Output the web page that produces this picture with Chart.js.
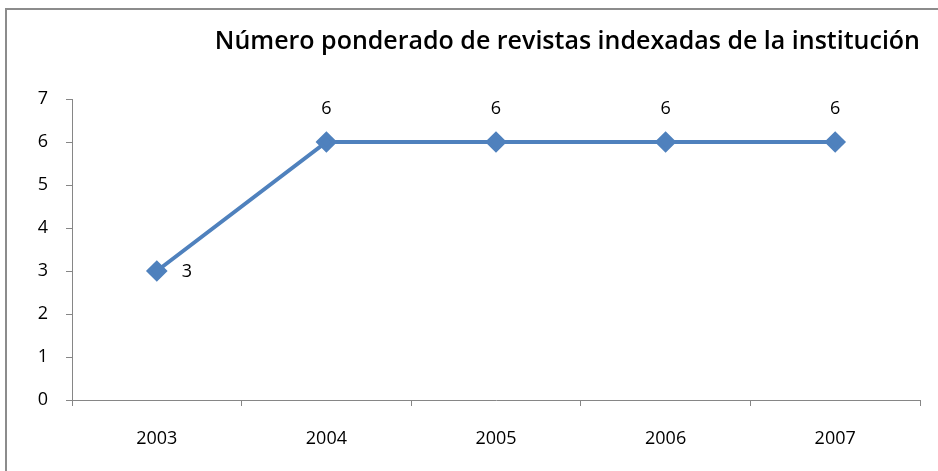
<!DOCTYPE html>
<html>
<head>
<meta charset="utf-8">
<script src="https://cdn.jsdelivr.net/npm/chart.js@4/dist/chart.umd.min.js"></script>
<style>
  html, body { margin: 0; padding: 0; background: #fff; overflow: hidden; }
  #wrap { position: relative; width: 938px; height: 471px; }
  #frame { position: absolute; left: 5px; top: 8px; width: 1000px; height: 1000px; border: 2px solid #8c8c8c; box-sizing: border-box; }
  canvas { position: absolute; left: 0; top: 0; }
</style>
</head>
<body>
<div id="wrap">
  <div id="frame"></div>
  <canvas id="myChart" width="938" height="471"></canvas>
</div>
<script>
const years = ['2003', '2004', '2005', '2006', '2007'];
const revistas = [3, 6, 6, 6, 6];
const yTicks = [0, 1, 2, 3, 4, 5, 6, 7];

const FONT = '"Open Sans", sans-serif';

const valueLabels = {
    id: 'valueLabels',
    afterDatasetsDraw(chart) {
        const ctx = chart.ctx;
        const meta = chart.getDatasetMeta(0);
        ctx.save();
        ctx.font = '18px ' + FONT;
        ctx.fillStyle = '#000';
        ctx.textBaseline = 'middle';
        meta.data.forEach((pt, i) => {
            const v = revistas[i];
            if (i === 0) {
                ctx.textAlign = 'left';
                ctx.fillText(v, pt.x + 25, pt.y + 1);
            } else {
                ctx.textAlign = 'center';
                ctx.fillText(v, pt.x, pt.y - 33);
            }
        });
        ctx.restore();
    }
};

new Chart(document.getElementById('myChart'), {
    type: 'line',
    data: {
        labels: years,
        datasets: [{
            data: revistas,
            borderColor: '#4f81bd',
            backgroundColor: '#4f81bd',
            borderWidth: 4,
            pointStyle: 'rectRot',
            pointRadius: 8,
            pointHoverRadius: 8,
            tension: 0
        }]
    },
    options: {
        responsive: false,
        animation: false,
        layout: { padding: { top: 0, right: 18, bottom: 0, left: 0 } },
        plugins: {
            legend: { display: false },
            tooltip: { enabled: false },
            title: {
                display: true,
                text: 'Número ponderado de revistas indexadas de la institución',
                align: 'end',
                color: '#000',
                font: { family: FONT, size: 25, weight: '600', lineHeight: 1.2 },
                padding: { top: 27, bottom: 42 }
            }
        },
        scales: {
            x: {
                offset: true,
                grid: { display: true, drawOnChartArea: false, offset: true, tickLength: 6, color: '#868686' },
                border: { color: '#868686', width: 1 },
                ticks: { color: '#000', padding: 22, font: { family: FONT, size: 18 } },
                afterFit(scale) { scale.height = 71; }
            },
            y: {
                min: 0,
                max: 7,
                afterBuildTicks(scale) { scale.ticks = yTicks.map(v => ({ value: v })); },
                grid: { display: true, drawOnChartArea: false, tickLength: 6, color: '#868686' },
                border: { color: '#868686', width: 1 },
                ticks: { color: '#000', padding: 18, font: { family: FONT, size: 18 } },
                afterFit(scale) { scale.width = 72; }
            }
        }
    },
    plugins: [valueLabels]
});
</script>
</body>
</html>
